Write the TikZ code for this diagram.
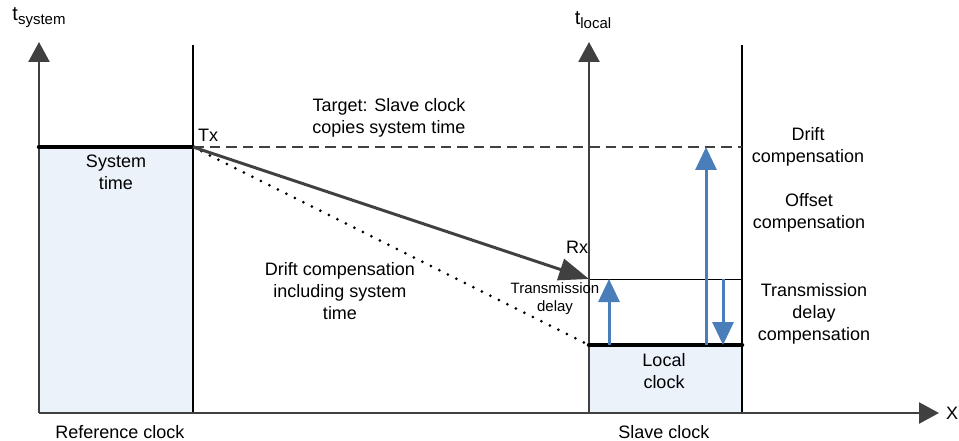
\documentclass[tikz,border=0pt]{standalone}
\usepackage{fontspec}
\setmainfont{Liberation Sans}
\usetikzlibrary{arrows.meta}
\definecolor{axisgray}{HTML}{404040}
\definecolor{arrowblue}{HTML}{4A7EBB}
\definecolor{boxfill}{RGB}{235,242,250}
\tikzset{
  lbl/.style={font=\fontsize{18}{22}\selectfont, align=center, inner sep=0pt},
  smalllbl/.style={font=\fontsize{15}{18}\selectfont, align=center, inner sep=0pt},
  axisline/.style={draw=axisgray, line width=2.5pt, -{Triangle[length=20pt,width=21pt]}},
  thinv/.style={draw=black, line width=1.5pt},
  thickh/.style={draw=black, line width=4.5pt, line cap=round},
  bluearrow/.style={draw=arrowblue, line width=3pt, -{Triangle[length=23pt,width=21pt]}},
}
\begin{document}
\begin{tikzpicture}[x=1pt,y=-1pt]
\useasboundingbox (0,0) rectangle (959,441);
% coordinates
\coordinate (O) at (39,413);
\coordinate (Ytop) at (39,42);
\coordinate (Xend) at (939,413);
\coordinate (Tx) at (193,147);
\coordinate (RefTop) at (193,45);
\coordinate (RefBot) at (193,413);
\coordinate (SysL) at (39,147);
\coordinate (S0) at (589,413);
\coordinate (Stop) at (589,42);
\coordinate (Rx) at (589,279);
\coordinate (L) at (589,345);
\coordinate (RBtop) at (742,45);
\coordinate (RBbot) at (742,413);
\coordinate (RBdash) at (742,147);
\coordinate (RBrx) at (742,279);
\coordinate (RBl) at (742,345);
% fills
\fill[boxfill] (SysL) rectangle (RefBot);
\fill[boxfill] (L) rectangle (RBbot);
% vertical box edges
\draw[thinv] (RefTop) -- (RefBot);
\draw[thinv] (RBtop) -- (RBbot);
% dashed target line
\draw[draw=axisgray, line width=1.6pt, dash pattern=on 10.5pt off 6pt] (Tx) -- (RBdash);
% Rx line
\draw[draw=black, line width=1pt] (Rx) -- (RBrx);
% dotted line
\draw[draw=black, line width=3pt, line cap=round, dash pattern=on 0pt off 9.5pt] (Tx) -- (L);
% axes
\draw[axisline] (O) -- (Ytop);
\draw[axisline] (S0) -- (Stop);
\draw[axisline] (O) -- (Xend);
% thick horizontal lines
\draw[thickh] (SysL) -- (Tx);
\draw[thickh] (L) -- (RBl);
% main message arrow
\draw[draw=axisgray, line width=3pt, -{Triangle[length=30pt,width=22pt]}] (Tx) -- (Rx);
% blue arrows
\coordinate (B1s) at (609,345); \coordinate (B1e) at (609,279);
\coordinate (B2s) at (706,345); \coordinate (B2e) at (706,147);
\coordinate (B3s) at (723,279); \coordinate (B3e) at (723,345);
\draw[bluearrow] (B1s) -- (B1e);
\draw[bluearrow] (B2s) -- (B2e);
\draw[bluearrow] (B3s) -- (B3e);
% labels
\node[lbl] (tsys) at (39,18) {\fontsize{20}{20}\selectfont t\raisebox{-4pt}{\fontsize{15}{15}\selectfont system}};
\node[lbl] (tloc) at (593,20) {\fontsize{20}{20}\selectfont t\raisebox{-4pt}{\fontsize{15}{15}\selectfont local}};
\node[lbl, anchor=west] (xlbl) at (946,413) {X};
\node[lbl] (txl) at (208,135) {Tx};
\node[lbl] (rxl) at (577,247) {Rx};
\node[lbl] (systime) at (116,172) {System\\time};
\node[lbl] (refclk) at (120,432) {Reference clock};
\node[lbl] (locclk) at (664,371) {Local\\clock};
\node[lbl] (slvclk) at (664,432) {Slave clock};
\node[lbl] (target) at (389,118) {Target: Slave clock\\copies system time};
\node[lbl] (driftsys) at (340,291) {Drift compensation\\including system\\time};
\node[smalllbl] (tdelay) at (555,299) {Transmission\\delay};
\node[lbl] (drift) at (808,147) {Drift\\compensation};
\node[lbl] (offset) at (809,213) {Offset\\compensation};
\node[lbl] (tdcomp) at (814,314) {Transmission\\delay\\compensation};
\end{tikzpicture}
\end{document}
